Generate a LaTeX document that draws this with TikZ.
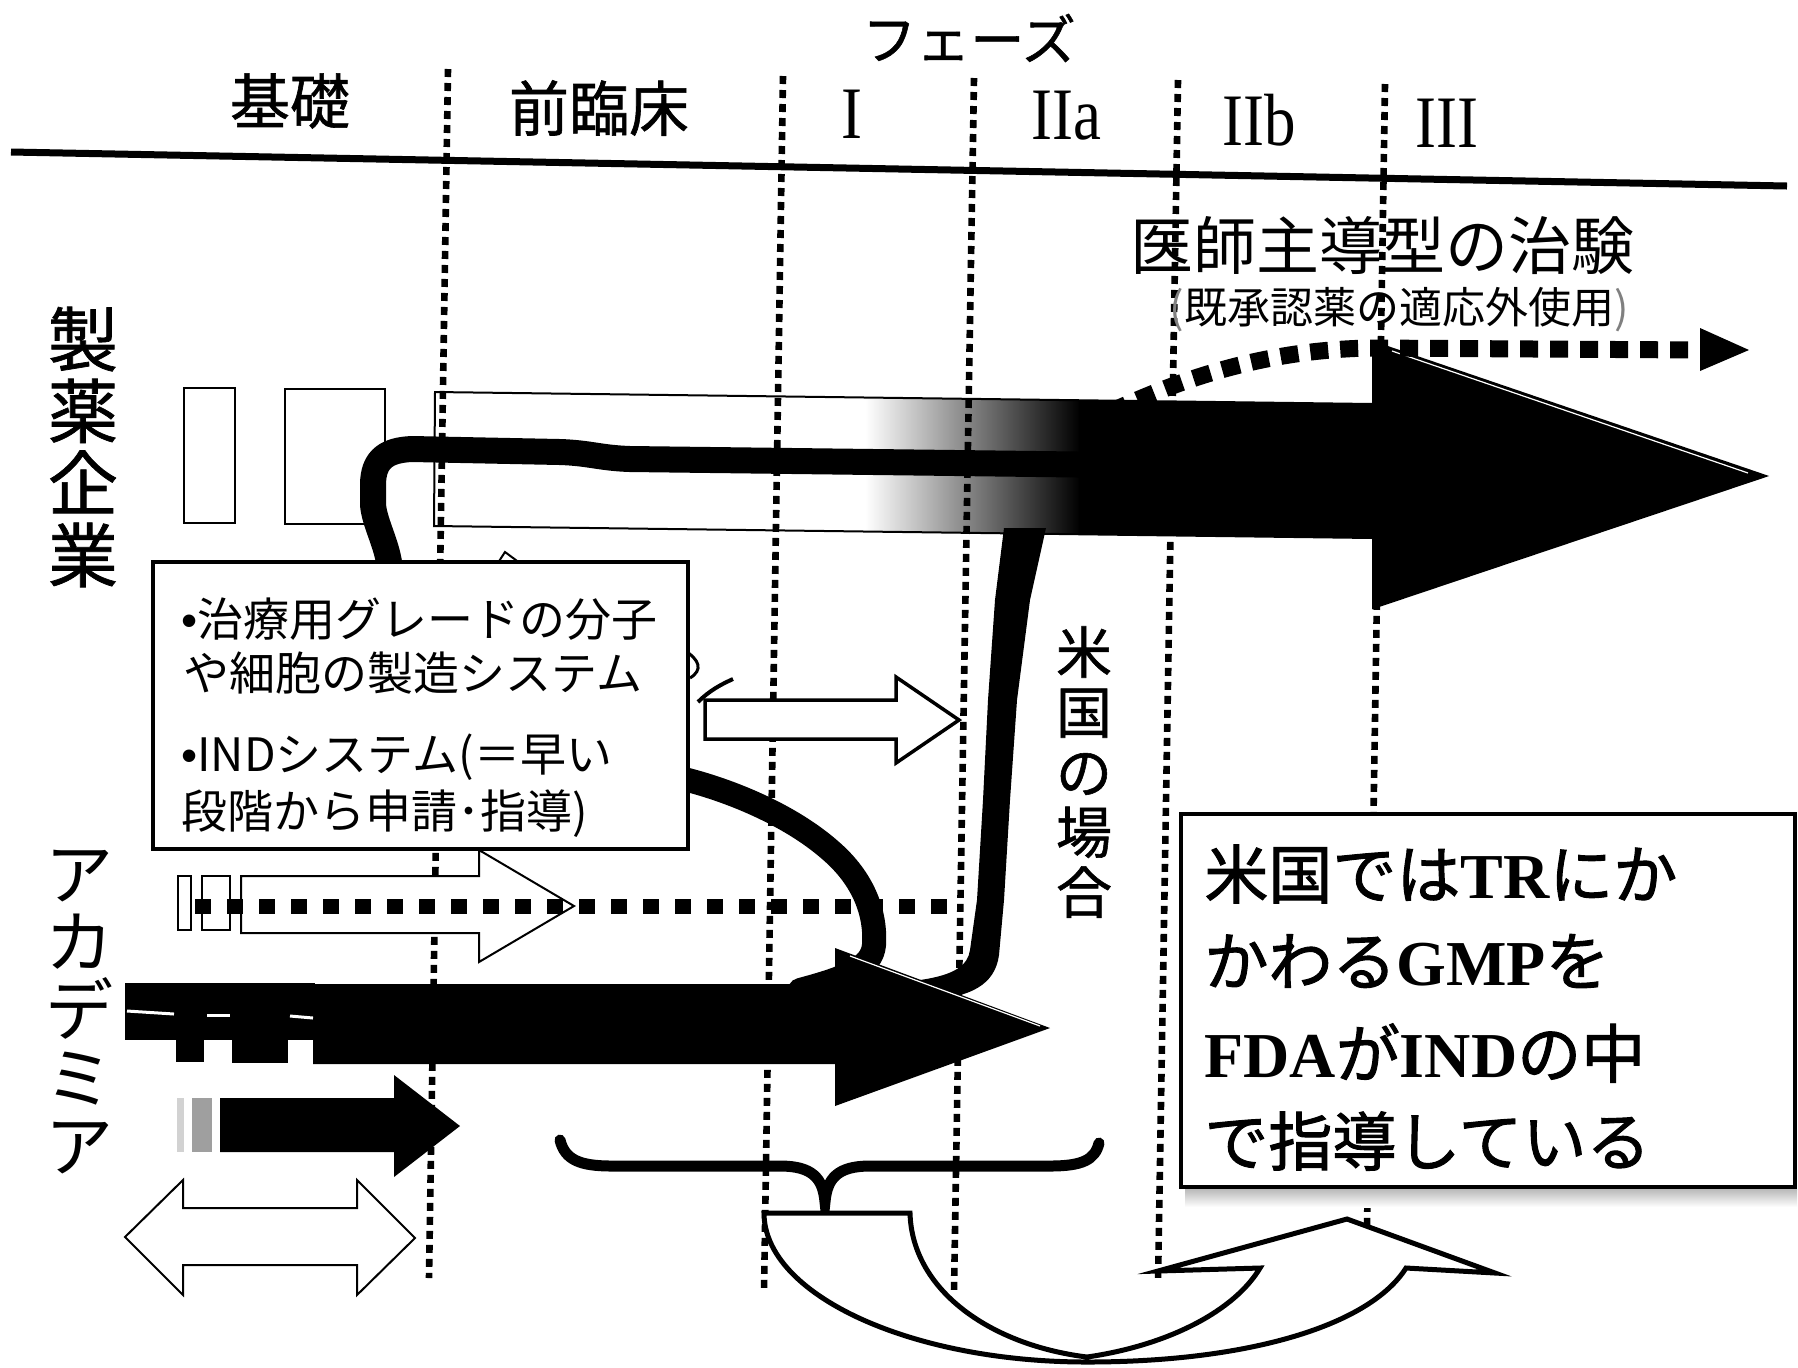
\documentclass[tikz,border=0pt]{standalone}
\usepackage{fontspec}
\newfontfamily\jp{Noto Sans CJK JP}
\newfontfamily\jpm[FakeBold=1]{Noto Sans CJK JP}
\newfontfamily\jpb[FakeBold=1.5]{Noto Sans CJK JP}
\newfontfamily\tms{Liberation Serif}
\newfontfamily\lsans{Liberation Sans}
\tikzset{
  vline/.style={line width=3.3pt, dash pattern=on 4pt off 3pt},
  bigdots/.style={line width=8.5pt, dash pattern=on 9pt off 6pt},
  lowdots/.style={line width=7.5pt, dash pattern=on 8pt off 8pt},
  blackpath/.style={line width=13pt, line cap=round, line join=round},
  hollow/.style={draw, fill=white, line width=1pt, line join=miter},
  highlight/.style={white, line width=0.6pt},
  jlabel/.style={inner sep=0pt, text=black},
}
\begin{document}
\begin{tikzpicture}[x=0.5pt,y=-0.5pt]
\useasboundingbox (0,0) rectangle (1798,1367);
\fill[white] (0,0) rectangle (1798,1367);

% ---- big gradient arrow (pharma row)
\begin{scope}
\clip (435,392) -- (1373,404) -- (1373,342) -- (1766,476) -- (1373,608) -- (1373,538) -- (434,526) -- cycle;
\shade[left color=white, right color=black] (865,330) rectangle (1080,620);
\fill[black] (1079,330) rectangle (1800,620);
\end{scope}
\draw[line width=1pt] (435,392) -- (1373,404) -- (1373,342) -- (1766,476) -- (1373,608) -- (1373,538) -- (434,526) -- cycle;
\draw[highlight] (1392,351) -- (1748,473);

% ---- phase separators and header rule
\coordinate (l1t) at (448,69);  \coordinate (l1b) at (429,1278);
\coordinate (l2t) at (783,76);  \coordinate (l2b) at (764,1292);
\coordinate (l3t) at (974,78);  \coordinate (l3b) at (954,1292);
\coordinate (l4t) at (1178,80); \coordinate (l4b) at (1158,1283);
\coordinate (l5t) at (1385,84); \coordinate (l5b) at (1367,1228);
\draw[vline] (l1t) -- (l1b);
\draw[vline] (l2t) -- (l2b);
\draw[vline] (l3t) -- (l3b);
\draw[vline] (l4t) -- (l4b);
\draw[vline] (l5t) -- (l5b);
\coordinate (hl) at (11,152); \coordinate (hr) at (1787,186);
\draw[line width=3.5pt] (hl) -- (hr);

% ---- small boxes in pharma row
\draw[line width=0.8pt, fill=white] (184,388) rectangle (235,523);
\draw[line width=0.8pt, fill=white] (285,389) rectangle (385,524);

% ---- dotted arrow (investigator-led trial)
\coordinate (dA) at (1110,412); \coordinate (dB) at (1370,348); \coordinate (dC) at (1700,350);
\draw[bigdots] (dA) .. controls (1190,375) and (1270,350) .. (dB) -- (dC);
\fill (1700,328) -- (1749,350) -- (1700,371) -- cycle;

% ---- thick black paths
\draw[blackpath] (390,570) .. controls (388,545) and (375,525) .. (373,505) -- (373,485)
  .. controls (373,458) and (388,450) .. (412,449) -- (560,452)
  .. controls (590,453) and (600,458) .. (630,459) -- (1200,466);
\fill (1004,528) -- (1046,528) -- (1030,600) -- (1017,700) -- (1010,800) -- (1004,900) -- (999,955)
  .. controls (995,985) and (970,998) .. (925,1000) -- (920,980)
  .. controls (955,975) and (968,965) .. (970,950) -- (977,900) -- (983,800) -- (988,700) -- (995,600) -- cycle;
\draw[blackpath, line width=12pt] (680,778) .. controls (730,790) and (790,815) .. (830,850)
  .. controls (865,880) and (876,915) .. (874,945) .. controls (872,968) and (845,978) .. (800,990);

% ---- academia row: big black arrow with stubs
\fill (313,984) -- (835,984) -- (835,948) -- (1050,1028) -- (835,1106) -- (835,1064) -- (313,1064) -- cycle;
\draw[highlight] (850,956) -- (1040,1026);
\fill (125,983) rectangle (315,1040);
\fill (176,983) rectangle (204,1062);
\fill (232,983) rectangle (288,1063);
\draw[white, line width=1.5pt] (127,1011) -- (174,1014);
\draw[white, line width=1.5pt] (207,1015) -- (230,1015);
\draw[white, line width=1.5pt] (290,1016) -- (313,1018);

% ---- small black arrow
\fill[gray!35] (177,1098) rectangle (184,1152);
\fill[gray!75] (192,1098) rectangle (212,1152);
\fill (220,1098) -- (394,1098) -- (394,1075) -- (460,1126) -- (394,1177) -- (394,1152) -- (220,1152) -- cycle;

% ---- double hollow arrow
\draw[hollow] (125,1237) -- (183,1180) -- (183,1208) -- (357,1208) -- (357,1180) -- (415,1238)
  -- (357,1295) -- (357,1265) -- (183,1265) -- (183,1295) -- cycle;

% ---- academia hollow arrow with dotted line
\draw[hollow] (178,876) rectangle (191,930);
\draw[hollow] (202,876) rectangle (230,930);
\draw[hollow] (241,876) -- (479,876) -- (479,850) -- (574,906) -- (479,962) -- (479,933) -- (241,933) -- cycle;
\coordinate (ldA) at (195,906); \coordinate (ldB) at (950,906);
\draw[lowdots] (ldA) -- (ldB);

% ---- hidden arrow tip above box 1
\draw[hollow] (492,572) -- (505,552) -- (532,572);

% ---- middle hollow arrow
\draw[hollow, line width=1.75pt] (705,700) -- (896,700) -- (896,677) -- (959,720) -- (896,763) -- (896,739) -- (705,739) -- cycle;
\draw[line width=1.5pt] (684,650) .. controls (700,660) and (703,670) .. (690,678);
\draw[line width=2pt] (698,702) .. controls (710,690) and (722,684) .. (733,679);

% ---- box 1
\draw[line width=1.75pt, fill=white] (153,562) rectangle (688,849);
\node[jlabel, anchor=west, font=\jp\fontsize{23}{26}\selectfont] (t1) at (181,619) {{\lsans •}治療用グレードの分子};
\node[jlabel, anchor=west, font=\jp\fontsize{23}{26}\selectfont] (t2) at (183,673) {や細胞の製造システム};
\node[jlabel, anchor=west, font=\jp\fontsize{23}{26}\selectfont] (t3) at (181,757) {{\lsans •}INDシステム(＝早い};
\node[jlabel, anchor=west, font=\jp\fontsize{23}{26}\selectfont] (t4) at (181,814) {段階から申請･指導)};

% ---- brace
\draw[line width=5.5pt, line cap=round] (560,1140) .. controls (565,1160) and (580,1166) .. (612,1166) -- (780,1166)
  .. controls (812,1166) and (823,1178) .. (825,1202) .. controls (827,1178) and (838,1166) .. (870,1166)
  -- (1050,1166) .. controls (1082,1166) and (1095,1160) .. (1099,1143);

% ---- U-turn arrow
\draw[fill=white, line width=2.5pt, line join=miter] (764,1213) -- (910,1213)
  .. controls (912,1290) and (990,1345) .. (1087,1357)
  .. controls (1170,1345) and (1235,1310) .. (1260,1268)
  -- (1158,1271) -- (1347,1219) -- (1495,1273) -- (1406,1268)
  .. controls (1370,1325) and (1250,1362) .. (1087,1362)
  .. controls (909,1362) and (764,1294) .. (764,1213) -- cycle;

% ---- FDA box
\shade[top color=gray!55, bottom color=white] (1185,1189) rectangle (1797,1207);
\draw[line width=2pt, fill=white] (1181,814) rectangle (1795,1187);
\node[jlabel, anchor=west, font=\fontsize{32}{36}\selectfont] (f1) at (1204,874) {{\jpb 米国では}{\tms\bfseries TR}{\jpb にか}};
\node[jlabel, anchor=west, font=\fontsize{32}{36}\selectfont] (f2) at (1204,961) {{\jpb かわる}{\tms\bfseries GMP}{\jpb を}};
\node[jlabel, anchor=west, font=\fontsize{32}{36}\selectfont] (f3) at (1204,1053) {{\tms\bfseries FDA}{\jpb が}{\tms\bfseries IND}{\jpb の中}};
\node[jlabel, anchor=west, font=\fontsize{32}{36}\selectfont] (f4) at (1204,1141) {{\jpb で指導している}};

% ---- header labels
\node[jlabel, font=\jpm\fontsize{27}{30}\selectfont] (phase) at (969,38) {フェーズ};
\node[jlabel, font=\jpm\fontsize{30}{32}\selectfont] (kiso) at (290,101) {基礎};
\node[jlabel, font=\jpm\fontsize{30}{32}\selectfont] (zenrin) at (599,108) {前臨床};
\node[jlabel, font=\tms\fontsize{37}{38}\selectfont] (p1) at (852,114) {\scalebox{0.85}[1]{I}};
\node[jlabel, font=\tms\fontsize{37}{38}\selectfont] (p2a) at (1066,116) {\scalebox{0.85}[1]{IIa}};
\node[jlabel, font=\tms\fontsize{37}{38}\selectfont] (p2b) at (1259,120) {\scalebox{0.85}[1]{IIb}};
\node[jlabel, font=\tms\fontsize{37}{38}\selectfont] (p3) at (1447,123) {\scalebox{0.85}[1]{III}};

% ---- other labels
\node[jlabel, font=\jp\fontsize{31.5}{34}\selectfont] (ishi) at (1382,246) {医師主導型の治験};
\node[jlabel, font=\jp\fontsize{21.5}{24}\selectfont] (kisho) at (1399,310) {{\color{gray}(}既承認薬の適応外使用{\color{gray})}};
\node[jlabel, align=center, font=\jpm\fontsize{35}{36}\selectfont] (seiyaku) at (83,447) {製\\薬\\企\\業};
\node[jlabel, align=center, font=\jp\fontsize{34}{34}\selectfont] (academia) at (80,1012) {ア\\カ\\デ\\ミ\\ア};
\node[jlabel, align=center, font=\jpm\fontsize{28}{30}\selectfont] (beikoku) at (1084,772) {米\\国\\の\\場\\合};
\end{tikzpicture}
\end{document}
